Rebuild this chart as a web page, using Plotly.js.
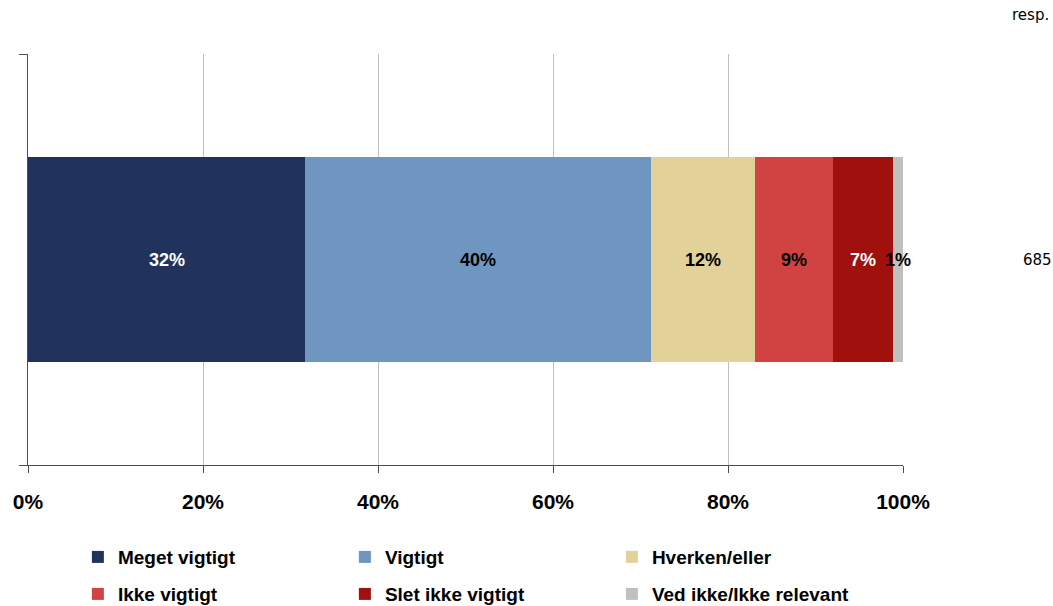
<!DOCTYPE html>
<html>
<head>
<meta charset="utf-8">
<script src="https://cdn.plot.ly/plotly-3.0.1.min.js"></script>
<style>html,body{margin:0;padding:0;background:#fff;}#chart{width:1053px;height:606px;}</style>
</head>
<body>
<div id="chart"></div>
<script>
const categories = ['Meget vigtigt', 'Vigtigt', 'Hverken/eller', 'Ikke vigtigt', 'Slet ikke vigtigt', 'Ved ikke/Ikke relevant'];
const values = [31.7, 39.5, 11.9, 8.9, 6.9, 1.1];
const valueLabels = ['32%', '40%', '12%', '9%', '7%', '1%'];
const colors = ['#21335c', '#6e96c1', '#e3d19a', '#d14343', '#a0100d', '#c0c0c0'];
const textColors = ['#ffffff', '#000000', '#000000', '#000000', '#ffffff', '#000000'];
const respCount = '685';
const xTicks = [0, 20, 40, 60, 80, 100];

const FONT = 'Liberation Sans, Arial, sans-serif';

const traces = categories.map((name, i) => ({
  type: 'bar',
  orientation: 'h',
  name: name,
  x: [values[i]],
  y: [0],
  width: 0.5,
  marker: {color: colors[i], line: {width: 0}},
  legend: i < 3 ? 'legend' : 'legend2',
  hoverinfo: 'skip'
}));

// value labels placed at the middle of each stacked segment (from data)
const labelAnnotations = [];
let cum = 0;
values.forEach((v, i) => {
  labelAnnotations.push({
    text: valueLabels[i], xref: 'x', yref: 'y', x: cum + v / 2, y: 0,
    xanchor: 'center', yanchor: 'middle', showarrow: false,
    font: {family: FONT, size: 18, weight: 'bold', color: textColors[i]}
  });
  cum += v;
});

const legendCommon = {
  orientation: 'h',
  xanchor: 'left',
  yanchor: 'middle',
  font: {family: FONT, size: 19, weight: 'bold', color: '#000'},
  entrywidth: 222,
  entrywidthmode: 'pixels',
  traceorder: 'normal',
  bgcolor: 'rgba(0,0,0,0)',
  borderwidth: 0,
  itemclick: false,
  itemdoubleclick: false
};

const layout = {
  width: 1053,
  height: 606,
  margin: {l: 28, r: 150, t: 54, b: 141, autoexpand: false},
  barmode: 'stack',
  paper_bgcolor: '#fff',
  plot_bgcolor: '#fff',
  showlegend: true,
  hovermode: false,
  xaxis: {
    range: [0, 100],
    tickvals: xTicks,
    ticktext: xTicks.map(v => v + '%'),
    showgrid: true,
    gridcolor: '#c0c0c0',
    gridwidth: 1,
    zeroline: false,
    showline: true,
    linecolor: '#4d4d4d',
    linewidth: 1,
    ticks: 'outside',
    ticklen: 7,
    tickcolor: '#4d4d4d',
    ticklabelstandoff: 11,
    tickfont: {family: FONT, size: 21, weight: 'bold', color: '#000'},
    fixedrange: true
  },
  yaxis: {
    range: [-0.5, 0.5],
    tickvals: [-0.5, 0.5],
    showticklabels: false,
    showgrid: false,
    zeroline: false,
    showline: true,
    linecolor: '#4d4d4d',
    linewidth: 1,
    ticks: 'outside',
    ticklen: 8,
    tickcolor: '#4d4d4d',
    fixedrange: true
  },
  legend: Object.assign({}, legendCommon, {x: 0.057, y: -0.224}),
  legend2: Object.assign({}, legendCommon, {x: 0.057, y: -0.314}),
  annotations: labelAnnotations.concat([
    {
      text: respCount, xref: 'paper', yref: 'y', x: 1.154, y: 0,
      xanchor: 'center', yanchor: 'middle', showarrow: false,
      font: {family: 'DejaVu Sans, sans-serif', size: 15, color: '#000'}
    },
    {
      text: 'resp.', xref: 'paper', yref: 'paper', x: 1.169, y: 1.095,
      xanchor: 'right', yanchor: 'middle', showarrow: false,
      font: {family: 'DejaVu Sans, sans-serif', size: 15, color: '#000'}
    }
  ])
};

Plotly.newPlot('chart', traces, layout, {displayModeBar: false, staticPlot: true});
</script>
</body>
</html>
